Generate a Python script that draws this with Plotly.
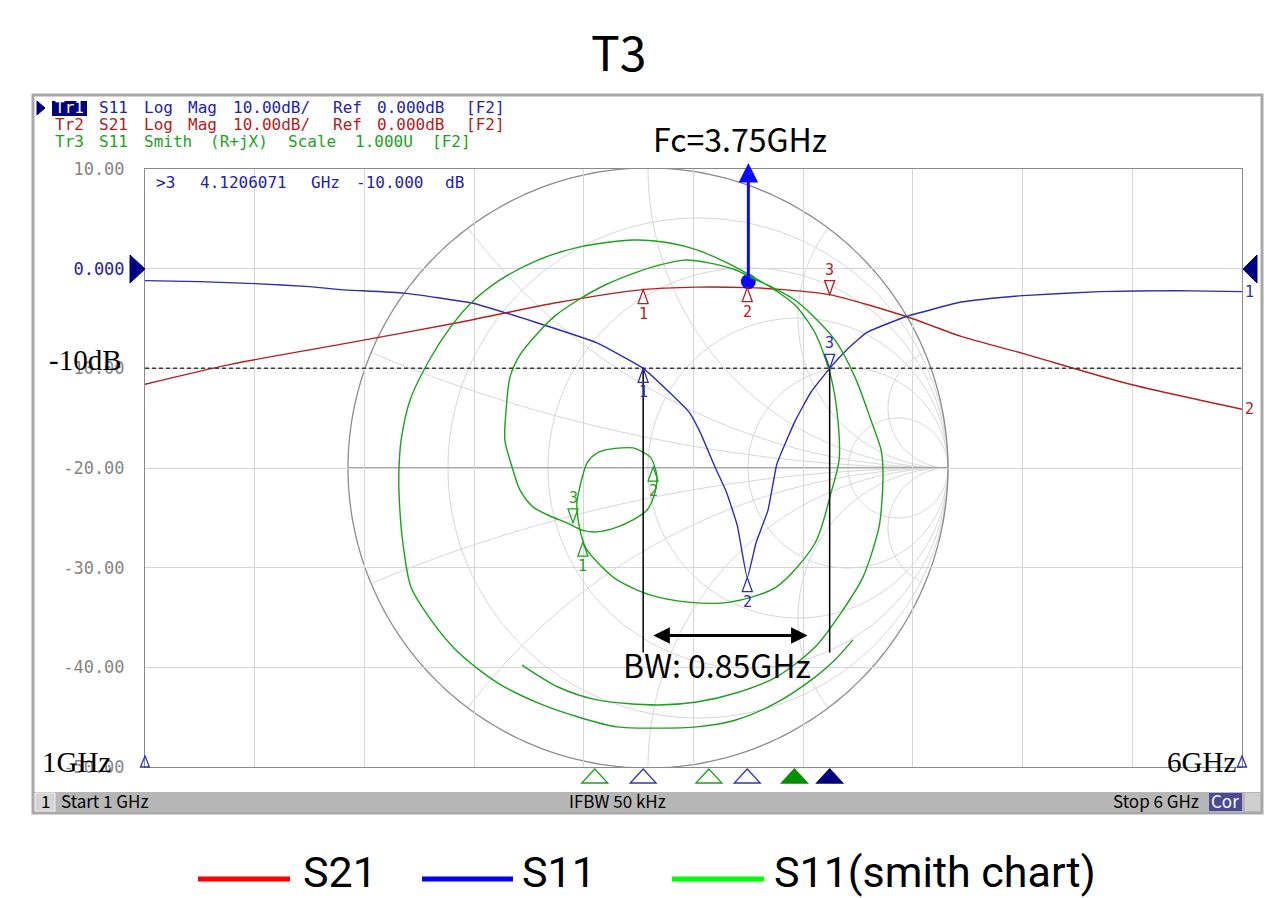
import numpy as np
import plotly.graph_objects as go

W, H = 1277, 898

# ---------------- trace readings ----------------
# S11 log magnitude (Tr1)
s11_freq_ghz = [1.00, 1.25, 1.50, 1.75, 1.89, 2.18, 2.49, 2.79, 3.06, 3.2706, 3.39, 3.48, 3.53,
                3.60, 3.65, 3.70, 3.745, 3.785, 3.84, 3.88, 3.965, 4.035, 4.1206, 4.20, 4.29,
                4.47, 4.71, 4.85, 5.00, 5.35, 5.70, 6.00]
s11_db = [-1.2, -1.3, -1.5, -1.8, -2.1, -2.45, -3.45, -5.45, -7.45, -10.0, -12.4, -14.4, -16.4,
          -20.0, -22.4, -25.8, -31.0, -27.5, -24.2, -19.6, -15.2, -12.4, -10.0, -8.1, -6.4,
          -4.8, -3.4, -3.0, -2.7, -2.3, -2.2, -2.3]

# S21 log magnitude (Tr2)
s21_freq_ghz = [1.00, 1.39, 1.89, 2.43, 2.88, 3.2706, 3.51, 3.745, 3.91, 4.1206, 4.47, 4.72, 5.00, 5.49, 6.00]
s21_db = [-11.6, -9.6, -7.6, -5.4, -3.4, -2.1, -1.85, -1.9, -2.1, -2.6, -4.8, -6.8, -8.5, -11.6, -14.1]

# S11 on the Smith chart (Tr3), reflection coefficient real / imaginary parts, in sweep order
smith_re = [0.683, 0.623, 0.557, 0.427, 0.293, 0.163, 0.030, -0.103, -0.233, -0.367, -0.500, -0.630,
            -0.723, -0.790, -0.817, -0.830, -0.830, -0.823, -0.793, -0.723, -0.660, -0.590, -0.493,
            -0.367, -0.227, -0.050, 0.073, 0.163, 0.257, 0.340, 0.423, 0.490, 0.557, 0.610, 0.633,
            0.637, 0.610, 0.557, 0.427, 0.273, 0.133, 0.007, -0.103, -0.160, -0.207, -0.223, -0.233,
            -0.237, -0.227, -0.203, -0.170, -0.127, -0.050, -0.017, 0.007, 0.023, 0.030, 0.023,
            -0.003, -0.050, -0.103, -0.170, -0.220, -0.270, -0.327, -0.383, -0.427, -0.450, -0.477,
            -0.473, -0.460, -0.427, -0.367, -0.310, -0.233, -0.143, -0.037, 0.040, 0.120, 0.207,
            0.293, 0.347, 0.413, 0.490, 0.557, 0.623, 0.690, 0.743, 0.777, 0.783, 0.780, 0.770,
            0.717, 0.650, 0.557, 0.427, 0.293, 0.163, 0.030, -0.170, -0.300, -0.420]
smith_im = [-0.573, -0.640, -0.697, -0.783, -0.840, -0.863, -0.867, -0.863, -0.830, -0.783, -0.717, -0.617,
            -0.507, -0.397, -0.250, -0.083, 0.000, 0.093, 0.227, 0.370, 0.467, 0.550, 0.627,
            0.693, 0.737, 0.760, 0.750, 0.727, 0.687, 0.643, 0.593, 0.543, 0.450, 0.303, 0.160,
            0.027, -0.083, -0.250, -0.397, -0.447, -0.447, -0.423, -0.373, -0.323, -0.267, -0.223, -0.173,
            -0.117, -0.063, 0.017, 0.050, 0.063, 0.067, 0.053, 0.037, 0.003, -0.030, -0.083,
            -0.140, -0.173, -0.197, -0.213, -0.207, -0.183, -0.160, -0.130, -0.073, -0.007, 0.093,
            0.193, 0.303, 0.377, 0.450, 0.507, 0.560, 0.610, 0.653, 0.677, 0.693, 0.683,
            0.660, 0.633, 0.603, 0.560, 0.500, 0.427, 0.303, 0.160, 0.060, 0.000, -0.107, -0.197,
            -0.363, -0.473, -0.597, -0.697, -0.750, -0.780, -0.790, -0.773, -0.730, -0.657]

# markers
bw_ghz = 0.85
fc_ghz = 3.75
marker_labels = ["1", "2", "3"]
marker_freq_ghz = [4.1206071 - bw_ghz, 3.745, 4.1206071]
s11_marker_db = [-10.0, -31.0, -10.0]
s21_marker_db = [-2.1, -1.9, -2.6]
smith_marker_re = [-0.217, 0.017, -0.250]
smith_marker_im = [-0.247, 0.003, -0.183]
smith_marker_freq_ghz = [3.05, 3.57, 3.96]
fc_marker_db = -1.3
bw_arrow_ghz = [3.31, 4.02]
bw_arrow_db = -36.8
bw_line_bottom_db = -38.5

ytick_vals = [10, 0, -10, -20, -30, -40, -50]
ytick_text = ["10.00", "0.000", "-10.00", "-20.00", "-30.00", "-40.00", "-50.00"]

# ---------------- styling ----------------
BLUE = "#2d2db4"
RED = "#b42020"
GREEN = "#1f9f1f"
NAVY = "#000080"
GRID = "#d6d6d6"
FRAME = "#8a8a8a"
LBL = "#858585"
MONO = "DejaVu Sans Mono"
UI = "Noto Sans CJK TC"
LEG = "Roboto"
SERIF = "Liberation Serif"


def fx(px):
    return px / W


def fy(py):
    return 1 - py / H


# plot rectangle (pixels) and Smith chart geometry
PL, PR, PT, PB = 145, 1242, 169, 767
SC_X, SC_Y, SC_R = 648, 468, 300
g_x0, g_x1 = (PL - SC_X) / SC_R, (PR - SC_X) / SC_R
g_y0, g_y1 = (SC_Y - PB) / SC_R, (SC_Y - PT) / SC_R

fig = go.Figure()
shapes = []
annotations = []

# ---------------- Smith chart grid ----------------
def path_of(re, im, close=False):
    s = "M" + " L".join(f"{a:.4f},{b:.4f}" for a, b in zip(re, im))
    return s + (" Z" if close else "")

grid_paths = []
th = np.linspace(0, 2 * np.pi, 241)
for r in [0.2, 0.5, 1.0, 2.0, 5.0]:
    c, rad = r / (1 + r), 1 / (1 + r)
    grid_paths.append(path_of(c + rad * np.cos(th), rad * np.sin(th), close=True))
rr = np.concatenate([np.linspace(0, 1, 60), np.geomspace(1.03, 400, 90)])
for xv in [0.2, 0.5, 1.0, 2.0, 5.0]:
    for sgn in (1, -1):
        z = rr + 1j * sgn * xv
        g = (z - 1) / (z + 1)
        grid_paths.append(path_of(g.real, g.imag))
shapes.append(dict(type="path", xref="x2", yref="y2", path=" ".join(grid_paths),
                   line=dict(color=GRID, width=1), layer="below"))
shapes.append(dict(type="path", xref="x2", yref="y2", path=path_of(np.cos(th), np.sin(th), close=True),
                   line=dict(color="#8c8c8c", width=1.3), layer="below"))
shapes.append(dict(type="line", xref="x2", yref="y2", x0=-1, x1=1, y0=0, y1=0,
                   line=dict(color="#8c8c8c", width=1.6), layer="below"))

# ---------------- traces ----------------
fig.add_trace(go.Scatter(x=s21_freq_ghz, y=s21_db, mode="lines",
                         line=dict(color=RED, width=1.4, shape="spline", smoothing=0.7),
                         hoverinfo="skip", showlegend=False))
fig.add_trace(go.Scatter(x=s11_freq_ghz, y=s11_db, mode="lines",
                         line=dict(color=BLUE, width=1.4, shape="spline", smoothing=0.35),
                         hoverinfo="skip", showlegend=False))
fig.add_trace(go.Scatter(x=smith_re, y=smith_im, xaxis="x2", yaxis="y2", mode="lines",
                         line=dict(color=GREEN, width=1.4, shape="spline", smoothing=0.8),
                         hoverinfo="skip", showlegend=False))

# -10 dB reference and bandwidth edges
shapes.append(dict(type="line", xref="x", yref="y", x0=1, x1=6, y0=-10, y1=-10,
                   line=dict(color="#3c3c3c", width=1.5, dash="4px,3px")))
for f in (marker_freq_ghz[0], marker_freq_ghz[2]):
    shapes.append(dict(type="line", xref="x", yref="y", x0=f, x1=f, y0=-10, y1=bw_line_bottom_db,
                       line=dict(color="black", width=1.5)))


# ---------------- marker glyphs ----------------
def tri(xref, yref, xa, ya, below, color, filled=False, w=10, h=14):
    # tip sits on the anchor; body hangs below (below=True) or rises above
    d = -h if below else h
    shapes.append(dict(type="path", xref=xref, yref=yref, xsizemode="pixel", ysizemode="pixel",
                       xanchor=xa, yanchor=ya,
                       path=f"M0,0 L{-w / 2},{d} L{w / 2},{d} Z",
                       line=dict(color=color, width=1.3),
                       fillcolor=color if filled else "rgba(0,0,0,0)"))


def mark_num(xref, yref, xa, ya, below, color, text):
    annotations.append(dict(x=xa, y=ya, xref=xref, yref=yref, text=text, showarrow=False,
                            yshift=(-24 if below else 25), xanchor="center", yanchor="middle",
                            font=dict(family=MONO, size=15, color=color)))


for i, lab in enumerate(marker_labels):
    below = i < 2
    tri("x", "y", marker_freq_ghz[i], s11_marker_db[i], below, BLUE)
    mark_num("x", "y", marker_freq_ghz[i], s11_marker_db[i], below, BLUE, lab)
    tri("x", "y", marker_freq_ghz[i], s21_marker_db[i], below, RED)
    mark_num("x", "y", marker_freq_ghz[i], s21_marker_db[i], below, RED, lab)
    tri("x2", "y2", smith_marker_re[i], smith_marker_im[i], below, GREEN)
    mark_num("x2", "y2", smith_marker_re[i], smith_marker_im[i], below, GREEN, lab)

# stimulus marker row under the grid
for i in range(3):
    active = i == 2
    tri("x", "paper", smith_marker_freq_ghz[i], fy(769), True, "#009000" if active else GREEN,
        filled=active, w=26, h=14)
    tri("x", "paper", marker_freq_ghz[i], fy(769), True, NAVY if active else "#3030c8",
        filled=active, w=26, h=14)
# sweep start / stop ticks at the grid corners
for px_edge in (PL, PR):
    tri("paper", "paper", fx(px_edge), fy(756), True, "#3030c8", w=9, h=11)

# reference level arrows and trace numbers
shapes.append(dict(type="path", xref="paper", yref="paper",
                   path=f"M{fx(130)},{fy(255)} L{fx(145)},{fy(269)} L{fx(130)},{fy(283)} Z",
                   fillcolor=NAVY, line=dict(color=NAVY, width=1)))
shapes.append(dict(type="path", xref="paper", yref="paper",
                   path=f"M{fx(1257)},{fy(255)} L{fx(1243)},{fy(269)} L{fx(1257)},{fy(283)} Z",
                   fillcolor=NAVY, line=dict(color=NAVY, width=1)))
annotations.append(dict(x=6, y=s11_db[-1], xref="x", yref="y", text="1", showarrow=False,
                        xanchor="left", xshift=1, font=dict(family=MONO, size=15, color=BLUE)))
annotations.append(dict(x=6, y=s21_db[-1], xref="x", yref="y", text="2", showarrow=False,
                        xanchor="left", xshift=1, font=dict(family=MONO, size=15, color=RED)))

# ---------------- Fc arrow and bandwidth arrow ----------------
fig.add_trace(go.Scatter(x=[fc_ghz], y=[fc_marker_db], mode="markers",
                         marker=dict(color="#0a0aff", size=15), hoverinfo="skip", showlegend=False,
                         cliponaxis=False))
annotations.append(dict(x=fc_ghz, y=10.6, xref="x", yref="y", ax=fc_ghz, ay=fc_marker_db,
                        axref="x", ayref="y", text="", showarrow=True, arrowhead=2, arrowsize=1.3,
                        arrowwidth=3, arrowcolor="#0a0aff", standoff=0))
annotations.append(dict(x=fc_ghz, y=fy(138), xref="x", yref="paper", text=f"Fc={fc_ghz:.2f}GHz",
                        showarrow=False, xanchor="center", yanchor="middle", xshift=-8,
                        font=dict(family=UI, size=32, color="black")))
annotations.append(dict(x=bw_arrow_ghz[1], y=bw_arrow_db, xref="x", yref="y",
                        ax=bw_arrow_ghz[0], ay=bw_arrow_db, axref="x", ayref="y", text="",
                        showarrow=True, arrowhead=2, arrowside="end+start", arrowsize=1.1,
                        arrowwidth=3, arrowcolor="black", standoff=0, startstandoff=0))
annotations.append(dict(x=fx(717), y=fy(664), xref="paper", yref="paper", text=f"BW: {bw_ghz:.2f}GHz",
                        showarrow=False, xanchor="center", yanchor="middle",
                        font=dict(family=UI, size=32, color="black")))

# overlaid hand labels
for txt, x, y, anc in [("-10dB", 47, 360, "left"), ("1GHz", 40, 762, "left"), ("6GHz", 1238, 762, "right")]:
    annotations.append(dict(x=fx(x), y=fy(y), xref="paper", yref="paper", text=txt, showarrow=False,
                            xanchor=anc, yanchor="middle", font=dict(family=SERIF, size=29, color="black")))


# ---------------- analyzer header and status bar ----------------
def mono_line(text, x0, y, color, pitch=11.1, size=16, skip_first=False):
    idx = 0
    for n, word in enumerate(text.split(" ")):
        if word and not (skip_first and n == 0):
            annotations.append(dict(x=fx(x0 + idx * pitch), y=fy(y), xref="paper", yref="paper",
                                    text=word, showarrow=False, xanchor="left", yanchor="middle",
                                    font=dict(family=MONO, size=size, color=color)))
        idx += len(word) + 1


shapes.append(dict(type="rect", xref="paper", yref="paper", x0=fx(52), x1=fx(87), y0=fy(116), y1=fy(101),
                   fillcolor=NAVY, line=dict(width=0)))
shapes.append(dict(type="path", xref="paper", yref="paper",
                   path=f"M{fx(37)},{fy(101)} L{fx(45)},{fy(108)} L{fx(37)},{fy(115)} Z",
                   fillcolor=NAVY, line=dict(color=NAVY, width=1)))
annotations.append(dict(x=fx(53), y=fy(108), xref="paper", yref="paper", text="Tr1", showarrow=False,
                        xanchor="left", yanchor="middle", font=dict(family=MONO, size=16, color="white")))
mono_line("Tr1 S11 Log Mag 10.00dB/ Ref 0.000dB [F2]", 53, 108, "#2323a8", skip_first=True)
mono_line("Tr2 S21 Log Mag 10.00dB/ Ref 0.000dB [F2]", 53, 125, "#b01c1c")
mono_line("Tr3 S11 Smith (R+jX) Scale 1.000U [F2]", 53, 142, "#1f9f1f")
mono_line(f">3  {marker_freq_ghz[2]:.7f} GHz {s11_marker_db[2]:.3f} dB", 154, 183, "#2323a8")

# window frame and status bar
shapes.append(dict(type="rect", xref="paper", yref="paper", x0=fx(33), x1=fx(1262), y0=fy(813), y1=fy(95),
                   line=dict(color="#a8a8a8", width=3)))
shapes.append(dict(type="rect", xref="paper", yref="paper", x0=fx(34), x1=fx(1261), y0=fy(812), y1=fy(792),
                   fillcolor="#b6b6b6", line=dict(width=0)))
shapes.append(dict(type="rect", xref="paper", yref="paper", x0=fx(35), x1=fx(55), y0=fy(811), y1=fy(793),
                   fillcolor="#d4d4d4", line=dict(color="#efefef", width=1)))
shapes.append(dict(type="rect", xref="paper", yref="paper", x0=fx(1209), x1=fx(1242), y0=fy(811), y1=fy(793),
                   fillcolor="#4a4a96", line=dict(width=0)))
shapes.append(dict(type="rect", xref="paper", yref="paper", x0=fx(1245), x1=fx(1260), y0=fy(811), y1=fy(793),
                   fillcolor="#cfcfcf", line=dict(width=0)))
for txt, x, anc, col in [("1", 45, "center", "black"), ("Start 1 GHz", 59, "left", "black"),
                         ("IFBW 50 kHz", 617, "center", "black"), ("Stop 6 GHz", 1201, "right", "black"),
                         ("Cor", 1225, "center", "white")]:
    annotations.append(dict(x=fx(x), y=fy(800), xref="paper", yref="paper", text=txt, showarrow=False,
                            xanchor=anc, yanchor="middle", font=dict(family=UI, size=17, color=col)))

# ---------------- title and legend ----------------
annotations.append(dict(x=fx(618), y=fy(50), xref="paper", yref="paper", text="T3", showarrow=False,
                        xanchor="center", yanchor="middle", font=dict(family=UI, size=48, color="black")))
legend_items = [("S21", "#ff0000", 198, 290, 301), ("S11", "#0000ff", 422, 513, 520),
                ("S11(smith chart)", "#00ff00", 672, 764, 772)]
for name, col, lx0, lx1, tx in legend_items:
    shapes.append(dict(type="line", xref="paper", yref="paper", x0=fx(lx0), x1=fx(lx1), y0=fy(879), y1=fy(879),
                       line=dict(color=col, width=5)))
    annotations.append(dict(x=fx(tx), y=fy(872), xref="paper", yref="paper", text=name, showarrow=False,
                            xanchor="left", yanchor="middle", font=dict(family=LEG, size=43, color="black")))

ytext = [f"<span style='color:#2323a8'>{t}</span>" if v == 0 else t for v, t in zip(ytick_vals, ytick_text)]

fig.update_layout(
    template="none",
    width=W, height=H, margin=dict(l=0, r=0, t=0, b=0, pad=0, autoexpand=False),
    paper_bgcolor="white", plot_bgcolor="white", showlegend=False,
    xaxis=dict(domain=[fx(PL), fx(PR)], range=[1, 6], tick0=1, dtick=0.5, showgrid=True,
               gridcolor=GRID, gridwidth=1, showticklabels=False, ticks="", zeroline=False,
               showline=True, linecolor=FRAME, linewidth=1, mirror=True, fixedrange=True,
               automargin=False),
    yaxis=dict(domain=[fy(PB), fy(PT)], range=[-50, 10], tickvals=ytick_vals, ticktext=ytext,
               tickfont=dict(family=MONO, size=17, color=LBL), ticks="", ticklabelstandoff=16,
               showgrid=True, gridcolor=GRID, gridwidth=1, zeroline=False,
               showline=True, linecolor=FRAME, linewidth=1, mirror=True, fixedrange=True,
               automargin=False),
    xaxis2=dict(overlaying="x", range=[g_x0, g_x1], visible=False, fixedrange=True, automargin=False),
    yaxis2=dict(overlaying="y", range=[g_y0, g_y1], visible=False, fixedrange=True, automargin=False),
    shapes=shapes, annotations=annotations,
)

fig.write_html("out.html")
